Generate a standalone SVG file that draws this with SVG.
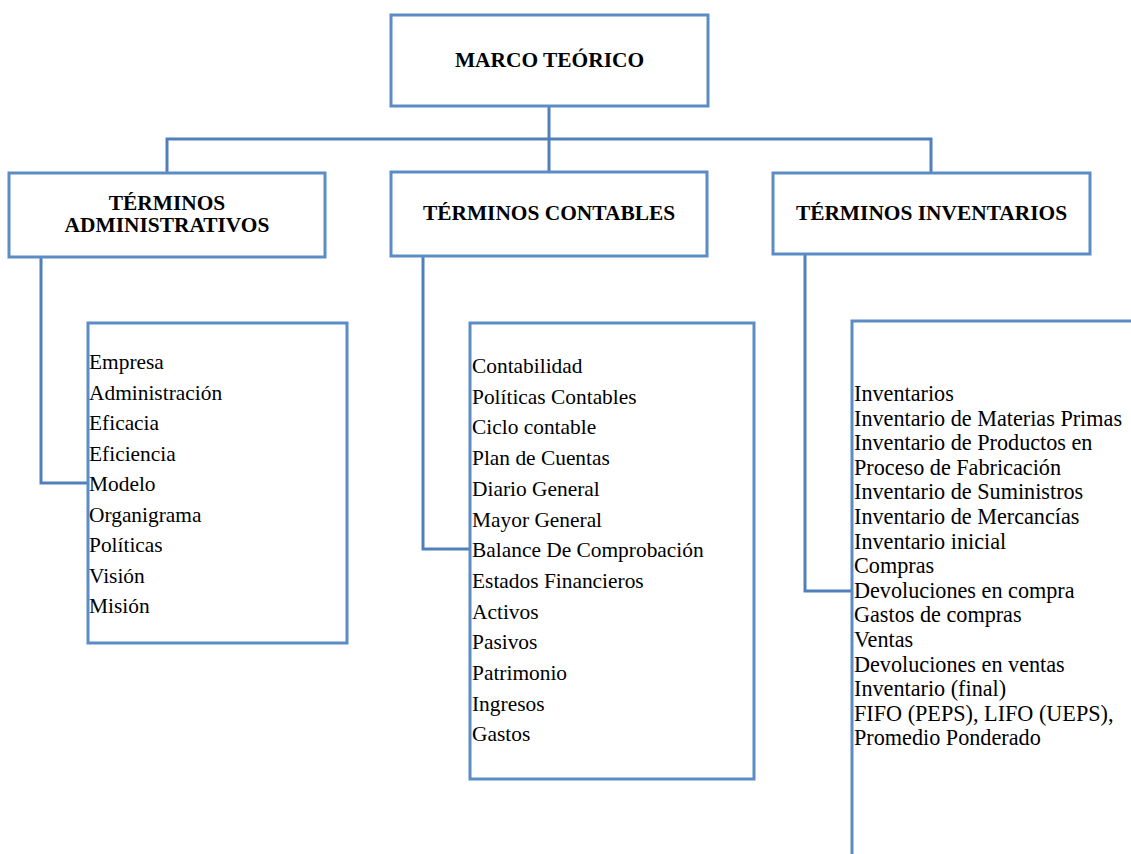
<svg xmlns="http://www.w3.org/2000/svg" width="1131" height="854" viewBox="0 0 1131 854">
<style>
.box{fill:#fff;stroke:#5b8cc5;stroke-width:3}
.con{fill:none;stroke:#5080bb;stroke-width:3}
.h{font-family:"Liberation Serif","Times New Roman",serif;font-weight:bold;font-size:21.4px;fill:#000;text-anchor:middle}
.t{font-family:"Liberation Serif","Times New Roman",serif;font-size:21.4px;fill:#000}
.r{font-family:"Liberation Serif","Times New Roman",serif;font-size:22.2px;fill:#000}
</style>
<rect width="1131" height="854" fill="#fff"/>
<g id="connectors">
<path class="con" d="M549,106 V172"/>
<path class="con" d="M167,173 V139 H931 V173"/>
<path class="con" d="M41,257 V483 H88"/>
<path class="con" d="M423,256 V549 H470"/>
<path class="con" d="M805,254 V591 H852"/>
</g>
<g id="marco">
<rect class="box" x="391" y="15" width="317" height="91"/>
<text class="h" x="549.5" y="67">MARCO TEÓRICO</text>
</g>
<g id="administrativos">
<rect class="box" x="9" y="173" width="316" height="84"/>
<text class="h" x="167" y="210">TÉRMINOS</text>
<text class="h" x="167" y="232">ADMINISTRATIVOS</text>
</g>
<g id="contables">
<rect class="box" x="391" y="172" width="316" height="84"/>
<text class="h" x="549" y="220">TÉRMINOS CONTABLES</text>
</g>
<g id="inventarios">
<rect class="box" x="773" y="173" width="317" height="81"/>
<text class="h" x="931.5" y="220">TÉRMINOS INVENTARIOS</text>
</g>
<g id="lista-administrativos">
<rect class="box" x="88" y="323" width="259" height="320"/>
<text class="t" x="89" y="369">Empresa</text>
<text class="t" x="89" y="399.5">Administración</text>
<text class="t" x="89" y="430">Eficacia</text>
<text class="t" x="89" y="460.5">Eficiencia</text>
<text class="t" x="89" y="491">Modelo</text>
<text class="t" x="89" y="521.5">Organigrama</text>
<text class="t" x="89" y="552">Políticas</text>
<text class="t" x="89" y="582.5">Visión</text>
<text class="t" x="89" y="613">Misión</text>
</g>
<g id="lista-contables">
<rect class="box" x="470" y="323" width="284" height="456"/>
<text class="t" x="472" y="373">Contabilidad</text>
<text class="t" x="472" y="403.7">Políticas Contables</text>
<text class="t" x="472" y="434.4">Ciclo contable</text>
<text class="t" x="472" y="465.1">Plan de Cuentas</text>
<text class="t" x="472" y="495.8">Diario General</text>
<text class="t" x="472" y="526.5">Mayor General</text>
<text class="t" x="472" y="557.2">Balance De Comprobación</text>
<text class="t" x="472" y="587.9">Estados Financieros</text>
<text class="t" x="472" y="618.6">Activos</text>
<text class="t" x="472" y="649.3">Pasivos</text>
<text class="t" x="472" y="680">Patrimonio</text>
<text class="t" x="472" y="710.7">Ingresos</text>
<text class="t" x="472" y="741.4">Gastos</text>
</g>
<g id="lista-inventarios">
<path class="box" d="M1133,321 H852 V856"/>
<text class="r" x="854" y="401">Inventarios</text>
<text class="r" x="854" y="425.6">Inventario de Materias Primas</text>
<text class="r" x="854" y="450.2">Inventario de Productos en</text>
<text class="r" x="854" y="474.8">Proceso de Fabricación</text>
<text class="r" x="854" y="499.4">Inventario de Suministros</text>
<text class="r" x="854" y="524">Inventario de Mercancías</text>
<text class="r" x="854" y="548.6">Inventario inicial</text>
<text class="r" x="854" y="573.2">Compras</text>
<text class="r" x="854" y="597.8">Devoluciones en compra</text>
<text class="r" x="854" y="622.4">Gastos de compras</text>
<text class="r" x="854" y="647">Ventas</text>
<text class="r" x="854" y="671.6">Devoluciones en ventas</text>
<text class="r" x="854" y="696.2">Inventario (final)</text>
<text class="r" x="854" y="720.8">FIFO (PEPS), LIFO (UEPS),</text>
<text class="r" x="854" y="745.4">Promedio Ponderado</text>
</g>
</svg>
